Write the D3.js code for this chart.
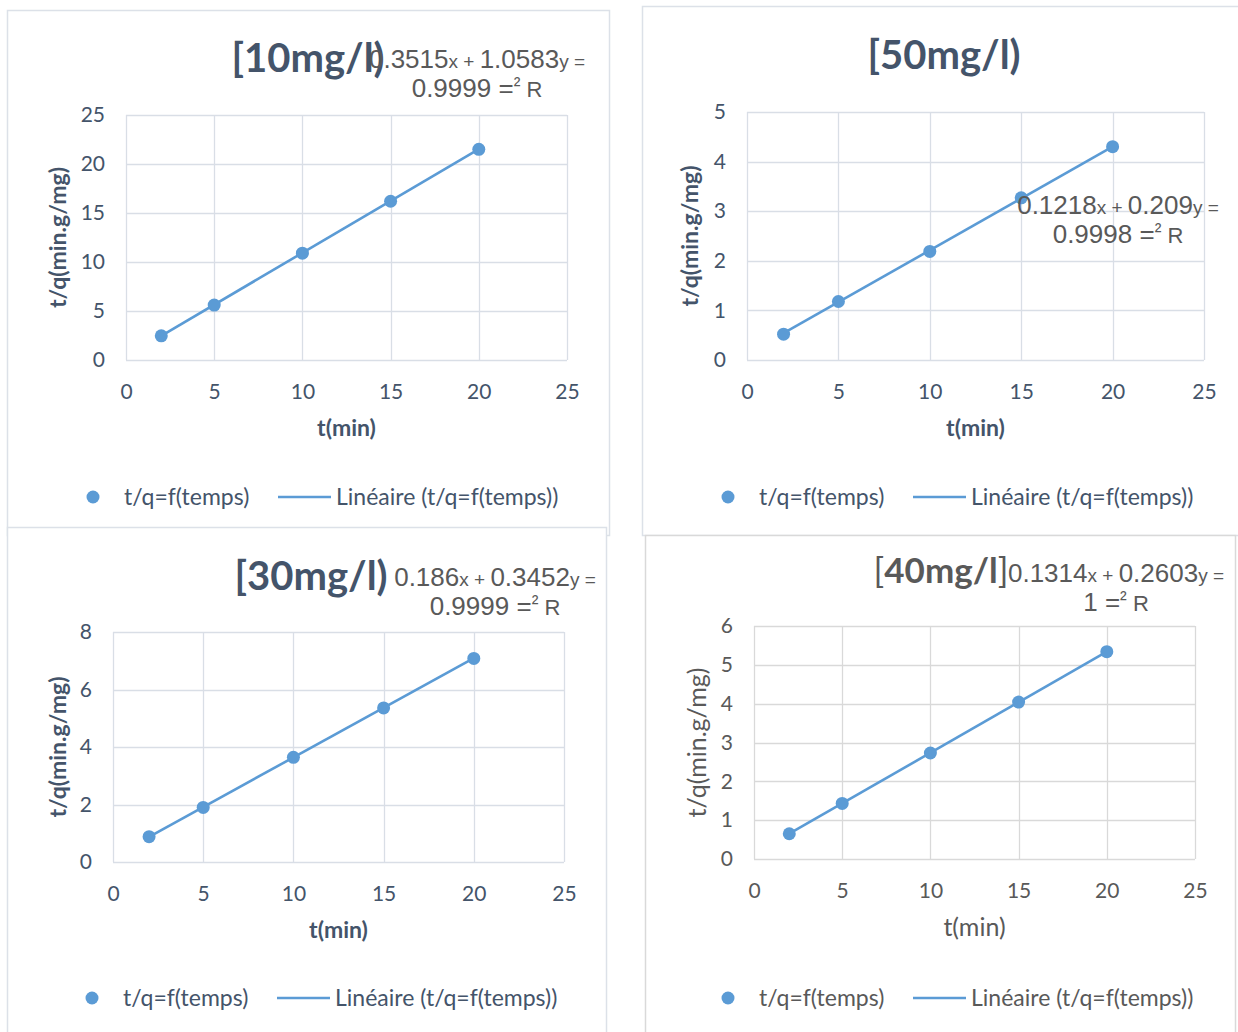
<!DOCTYPE html>
<html>
<head>
<meta charset="utf-8">
<script src="https://cdn.jsdelivr.net/npm/d3@7/dist/d3.min.js"></script>
<style>
  html, body { margin: 0; padding: 0; background: #ffffff; }
  svg { display: block; }
</style>
</head>
<body>
<svg id="chart" width="1238" height="1032"></svg>
<script>
// Pseudo-second-order kinetics: t/q versus time for four initial concentrations
const times = [2, 5, 10, 15, 20];
const ratio10 = [2.47, 5.6, 10.9, 16.2, 21.5];
const ratio50 = [0.52, 1.18, 2.19, 3.27, 4.30];
const ratio30 = [0.88, 1.9, 3.64, 5.36, 7.08];
const ratio40 = [0.65, 1.43, 2.73, 4.04, 5.34];

const titles = ["[10mg/l)", "[50mg/l)", "[30mg/l)", "[40mg/l]"];
// Trendline coefficients (t/q = slope * t + intercept)
const slopes = [1.0583, 0.209, 0.3452, 0.2603];
const intercepts = [0.3515, 0.1218, 0.186, 0.1314];
const r2Labels = ["0.9999", "0.9998", "0.9999", "1"];

const xTicks = [0, 5, 10, 15, 20, 25];
const yTicks10 = [0, 5, 10, 15, 20, 25];
const yTicks50 = [0, 1, 2, 3, 4, 5];
const yTicks30 = [0, 2, 4, 6, 8];
const yTicks40 = [0, 1, 2, 3, 4, 5, 6];

const xTitle = "t(min)";
const yTitle = "t/q(min.g/mg)";
const seriesName = "t/q=f(temps)";
const trendName = "Linéaire (t/q=f(temps))";

const series = [ratio10, ratio50, ratio30, ratio40];
const yTickSets = [yTicks10, yTicks50, yTicks30, yTicks40];

// Frame, plot area and label placement for each chart box
const layout = [
  { box: [7, 10, 602, 525], plot: [126, 115, 567, 360], title: [308, 72], eq: [477, 68], legend: [93, 497],
    yTitleGap: 68, text: "#44546A", grid: "#D9DEE6", border: "#DCE1E8", bold: true, titleSize: 40, axisSize: 23 },
  { box: [642, 6, 700, 529], plot: [747, 112, 1204, 360], title: [944, 69], eq: [1118, 214], legend: [728, 497],
    yTitleGap: 57, text: "#44546A", grid: "#D9DEE6", border: "#DCE1E8", bold: true, titleSize: 40, axisSize: 23 },
  { box: [7, 527, 599, 600], plot: [113, 632, 564, 862], title: [311, 590], eq: [495, 586], legend: [92, 998],
    yTitleGap: 55, text: "#44546A", grid: "#D9DEE6", border: "#DCE1E8", bold: true, titleSize: 40, axisSize: 23 },
  { box: [645, 535, 590, 600], plot: [754, 626, 1195, 859], title: [941, 583], eq: [1116, 582], legend: [728, 998],
    yTitleGap: 57, text: "#595959", grid: "#D9D9D9", border: "#D9D9D9", bold: false, titleSize: 35, axisSize: 25 }
];

const markColor = "#5B9BD5";
const svg = d3.select("#chart");
const baseFont = "Lato, 'Open Sans', sans-serif";
const eqFont = "'Liberation Sans Narrow', 'Liberation Sans', Arial, sans-serif";

layout.forEach((L, i) => {
  const g = svg.append("g");
  const [bx, by, bw, bh] = L.box;
  g.append("rect")
    .attr("x", bx + 0.5).attr("y", by + 0.5)
    .attr("width", bw).attr("height", bh)
    .attr("fill", "#ffffff").attr("stroke", L.border).attr("stroke-width", 1.5);

  const [x0, y0, x1, y1] = L.plot;
  const yT = yTickSets[i];
  const x = d3.scaleLinear().domain([0, 25]).range([x0, x1]);
  const y = d3.scaleLinear().domain([0, yT[yT.length - 1]]).range([y1, y0]);

  // Gridlines (horizontal and vertical, closing the plot area)
  g.append("g").selectAll("line.h").data(yT).join("line")
    .attr("x1", x0).attr("x2", x1)
    .attr("y1", d => Math.round(y(d)) + 0.5).attr("y2", d => Math.round(y(d)) + 0.5)
    .attr("stroke", L.grid).attr("stroke-width", 1.3);
  g.append("g").selectAll("line.v").data(xTicks).join("line")
    .attr("y1", y0).attr("y2", y1)
    .attr("x1", d => Math.round(x(d)) + 0.5).attr("x2", d => Math.round(x(d)) + 0.5)
    .attr("stroke", L.grid).attr("stroke-width", 1.3);

  // Axes: labels only
  const yAxis = g.append("g").attr("transform", `translate(${x0},0)`)
    .call(d3.axisLeft(y).tickValues(yT).tickSize(0).tickPadding(21).tickFormat(d3.format("d")));
  const xAxis = g.append("g").attr("transform", `translate(0,${y1})`)
    .call(d3.axisBottom(x).tickValues(xTicks).tickSize(0).tickPadding(24).tickFormat(d3.format("d")));
  [yAxis, xAxis].forEach(a => {
    a.select(".domain").remove();
    a.selectAll("text").attr("fill", L.text)
      .style("font-family", baseFont).style("font-size", "21px");
  });

  // Axis titles
  const fw = L.bold ? 700 : 400;
  g.append("text")
    .attr("x", (x0 + x1) / 2).attr("y", y1 + 68 + L.axisSize * 0.36)
    .attr("text-anchor", "middle").attr("fill", L.text)
    .style("font-family", baseFont).style("font-size", L.axisSize + "px")
    .style("font-weight", fw)
    .text(xTitle);
  g.append("text")
    .attr("transform", `translate(${x0 - L.yTitleGap + L.axisSize * 0.36},${(y0 + y1) / 2}) rotate(-90)`)
    .attr("text-anchor", "middle").attr("fill", L.text)
    .style("font-family", baseFont).style("font-size", L.axisSize + "px")
    .style("font-weight", fw)
    .text(yTitle);

  // Linear trendline across the measured range
  const s = slopes[i], c = intercepts[i];
  const tMin = d3.min(times), tMax = d3.max(times);
  g.append("line")
    .attr("x1", x(tMin)).attr("y1", y(s * tMin + c))
    .attr("x2", x(tMax)).attr("y2", y(s * tMax + c))
    .attr("stroke", markColor).attr("stroke-width", 2.6);

  // Data points
  g.append("g").selectAll("circle").data(times.map((t, k) => [t, series[i][k]])).join("circle")
    .attr("cx", d => x(d[0])).attr("cy", d => y(d[1]))
    .attr("r", 6.5).attr("fill", markColor);

  // Legend
  const [lx, ly] = L.legend;
  g.append("circle").attr("cx", lx).attr("cy", ly).attr("r", 6.5).attr("fill", markColor);
  g.append("text").attr("x", lx + 31).attr("y", ly + 8).attr("fill", L.text)
    .style("font-family", baseFont).style("font-size", "23px").text(seriesName);
  g.append("line").attr("x1", lx + 185).attr("x2", lx + 238)
    .attr("y1", ly).attr("y2", ly).attr("stroke", markColor).attr("stroke-width", 2.6);
  g.append("text").attr("x", lx + 243).attr("y", ly + 8).attr("fill", L.text)
    .style("font-family", baseFont).style("font-size", "23px").text(trendName);

  // Chart title
  const [tx, ty] = L.title;
  const title = g.append("text").attr("x", tx).attr("y", ty)
    .attr("text-anchor", "middle").attr("fill", L.text)
    .style("font-family", baseFont).style("font-size", L.titleSize + "px");
  if (L.bold) {
    title.style("font-weight", 700).text(titles[i]);
  } else {
    const t = titles[i];
    title.append("tspan").style("font-weight", 400).text(t.slice(0, 1));
    title.append("tspan").style("font-weight", 700).text(t.slice(1, -1));
    title.append("tspan").style("font-weight", 400).text(t.slice(-1));
  }

  // Trendline equation and R² label
  const [ex, ey] = L.eq;
  const eq = g.append("text").attr("x", ex).attr("y", ey)
    .attr("text-anchor", "middle").attr("fill", "#595959")
    .style("font-family", eqFont).style("font-size", "26px");
  eq.append("tspan").text(String(intercepts[i]));
  eq.append("tspan").style("font-size", "19px").text("x + ");
  eq.append("tspan").text(String(slopes[i]));
  eq.append("tspan").style("font-size", "19px").text("y =");
  const r2 = g.append("text").attr("x", ex).attr("y", ey + 29)
    .attr("text-anchor", "middle").attr("fill", "#595959")
    .style("font-family", eqFont).style("font-size", "26px");
  r2.append("tspan").text(r2Labels[i] + " =");
  r2.append("tspan").style("font-size", "20px").attr("dy", -5).text("²");
  r2.append("tspan").attr("dy", 5).style("font-size", "22px").text(" R");
});
</script>
</body>
</html>
